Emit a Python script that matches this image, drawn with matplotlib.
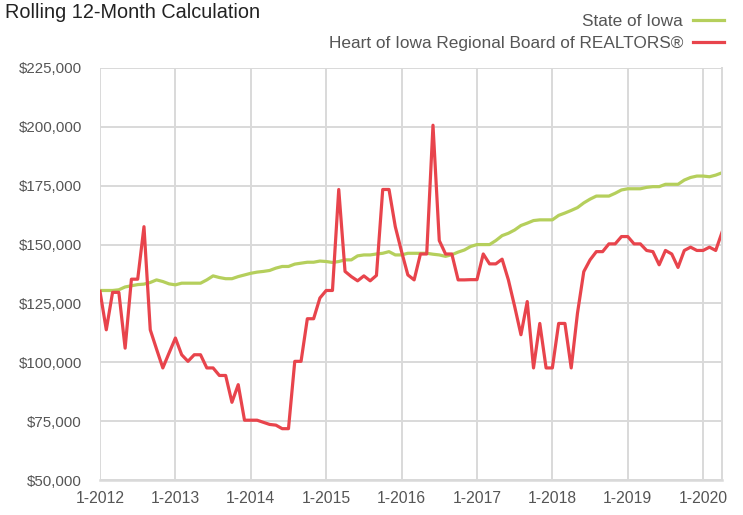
import matplotlib.pyplot as plt
from matplotlib import font_manager

# rolling 12-month median price, monthly from 1-2012 to 4-2020
iowa = [130.5, 130.5, 130.5, 130.8, 132.0, 132.5, 133.0, 133.2, 133.9, 135.0, 134.3, 133.3,
        132.9, 133.6, 133.6, 133.6, 133.6, 135.0, 136.7, 136.0, 135.5, 135.5, 136.4, 137.1,
        137.8, 138.3, 138.6, 139.0, 140.0, 140.7, 140.7, 141.7, 142.1, 142.5, 142.5, 143.0,
        142.8, 142.4, 142.8, 143.5, 143.5, 145.2, 145.6, 145.6, 146.0, 146.3, 147.0, 145.6,
        145.6, 146.3, 146.3, 146.3, 146.3, 145.9, 145.6, 145.0, 145.7, 146.8, 147.7, 149.2,
        150.0, 150.0, 150.0, 151.7, 153.8, 154.8, 156.2, 158.1, 159.1, 160.2, 160.5, 160.5,
        160.5, 162.4, 163.4, 164.5, 165.7, 167.7, 169.3, 170.6, 170.6, 170.6, 171.8, 173.2,
        173.7, 173.7, 173.7, 174.3, 174.6, 174.6, 175.6, 175.6, 175.6, 177.4, 178.5, 179.1,
        179.1, 178.8, 179.5, 180.5]
heart = [130.1, 113.8, 129.7, 129.7, 106.0, 135.3, 135.3, 157.6, 113.8, 105.6, 97.6, 104.0,
         110.3, 103.2, 100.4, 103.2, 103.2, 97.6, 97.6, 94.4, 94.4, 83.0, 90.5, 75.4,
         75.4, 75.4, 74.5, 73.6, 73.3, 71.8, 71.8, 100.4, 100.4, 118.5, 118.5, 127.3,
         130.5, 130.5, 173.4, 138.6, 136.4, 134.6, 136.7, 134.6, 136.9, 173.4, 173.4, 157.6,
         147.0, 137.1, 135.0, 146.0, 146.0, 200.7, 151.7, 146.0, 146.0, 135.0, 135.0, 135.1,
         135.1, 146.0, 141.8, 141.8, 143.8, 135.0, 123.7, 111.7, 125.8, 97.6, 116.5, 97.6,
         97.6, 116.5, 116.5, 97.6, 120.9, 138.5, 143.5, 147.0, 147.0, 150.3, 150.3, 153.4,
         153.4, 150.3, 150.3, 147.5, 147.0, 141.4, 147.5, 146.0, 140.3, 147.5, 148.9, 147.5,
         147.5, 148.9, 147.5, 155.2]
years = [2012, 2013, 2014, 2015, 2016, 2017, 2018, 2019, 2020]
y_ticks = [50000, 75000, 100000, 125000, 150000, 175000, 200000, 225000]

names = {f.name for f in font_manager.fontManager.ttflist}
fam = ['Liberation Sans Narrow', 'DejaVu Sans'] if 'Liberation Sans Narrow' in names else ['Liberation Sans', 'DejaVu Sans']
plt.rcParams['font.family'] = fam

green = '#b5cf5c'
red = '#e8444c'
txt = '#555555'
grid = '#d9d9d9'

fig = plt.figure(figsize=(7.43, 5.15), dpi=100)
ax = fig.add_axes([100 / 743, 1 - 480 / 515, 622 / 743, 412 / 515])

months = list(range(len(heart)))
ax.plot(months, [v * 1000 for v in iowa], color=green, lw=2.3, label='State of Iowa', solid_joinstyle='round')
ax.plot(months, [v * 1000 for v in heart], color=red, lw=2.3, label='Heart of Iowa Regional Board of REALTORS®',
        solid_joinstyle='round')

ax.set_xlim(0, 99)
ax.set_ylim(50000, 225000)
ax.set_xticks([12 * i for i in range(len(years))])
ax.set_xticklabels([f'1-{y}' for y in years])
ax.set_yticks(y_ticks)
ax.set_yticklabels([f'${v:,}' for v in y_ticks])
ax.grid(True, color=grid, lw=1.4)
ax.set_axisbelow(True)
for s in ['top', 'left']:
    ax.spines[s].set_visible(False)
ax.spines['bottom'].set_color(grid)
ax.spines['bottom'].set_linewidth(1.8)
ax.spines['right'].set_color(grid)
ax.spines['right'].set_linewidth(1.4)
ax.tick_params(length=0, colors=txt, labelsize=11.3, pad=8)
ax.tick_params(axis='y', labelsize=10.8, pad=13)

fig.text(5 / 743, 1 - 13 / 515, 'Rolling 12-Month Calculation', fontsize=14.3, color='#222222', va='center')
ax.legend(loc='upper right', bbox_to_anchor=(733 / 743, 1 - 5 / 515), bbox_transform=fig.transFigure,
          markerfirst=False, frameon=False, fontsize=12.4, labelcolor=txt, handlelength=1.8,
          handletextpad=0.6, labelspacing=0.45, borderpad=0)

fig.savefig('out.png', dpi=100)
